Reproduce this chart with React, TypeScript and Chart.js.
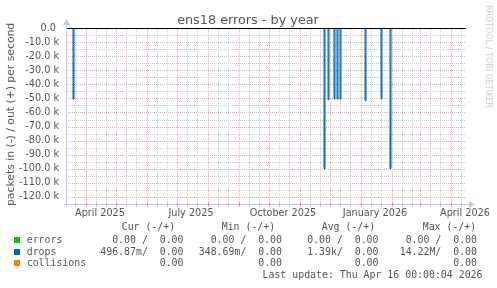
import React, { useEffect, useRef } from "react";
import { Chart, registerables } from "chart.js";

Chart.register(...registerables);

// ---------- data ----------
const TITLE = "ens18 errors - by year";
const Y_TITLE = "packets in (-) / out (+) per second";
const WATERMARK = "RRDTOOL / TOBI OETIKER";
const START_DATE = "2025-03-12";
const END_DATE = "2026-04-16";

// drops (in, drawn negative) – spikes
const SPIKE_DATES = [
  "2025-03-19",
  "2025-11-25",
  "2025-11-29",
  "2025-12-05",
  "2025-12-08",
  "2025-12-11",
  "2026-01-05",
  "2026-01-21",
  "2026-01-30",
];
const DROPS_IN = [-50500, -100200, -51000, -50500, -50500, -50500, -51700, -50300, -100000];
const ERRORS_IN_VALUE = 0;
const COLLISIONS_VALUE = 0;

const MONTH_STARTS = [
  "2025-04-01", "2025-05-01", "2025-06-01", "2025-07-01", "2025-08-01", "2025-09-01",
  "2025-10-01", "2025-11-01", "2025-12-01", "2026-01-01", "2026-02-01", "2026-03-01", "2026-04-01",
];
const MINOR_DATES = [
  "2025-03-21",
  "2025-04-11", "2025-04-21", "2025-05-11", "2025-05-21", "2025-06-11", "2025-06-21",
  "2025-07-11", "2025-07-21", "2025-08-11", "2025-08-21", "2025-09-11", "2025-09-21",
  "2025-10-11", "2025-10-21", "2025-11-11", "2025-11-21", "2025-12-11", "2025-12-21",
  "2026-01-11", "2026-01-21", "2026-02-11", "2026-02-21", "2026-03-11", "2026-03-21", "2026-04-11",
];
const X_LABELS = ["April 2025", "July 2025", "October 2025", "January 2026", "April 2026"];
const X_LABEL_DATES = ["2025-04-15", "2025-07-15", "2025-10-15", "2026-01-15", "2026-04-15"];

const Y_TICKS = [0, -10000, -20000, -30000, -40000, -50000, -60000, -70000, -80000, -90000, -100000, -110000, -120000];
const Y_MINOR = [-5000, -15000, -25000, -35000, -45000, -55000, -65000, -75000, -85000, -95000, -105000, -115000];
const Y_MIN = -125000;
const Y_MAX = 0;

const LEGEND_NAMES = ["errors", "drops", "collisions"];
const LEGEND_COLORS = ["#00CC00", "#0066B3", "#FF8000"];
const CUR = ["0.00 /  0.00", "496.87m/  0.00", "0.00"];
const MIN = ["0.00 /  0.00", "348.69m/  0.00", "0.00"];
const AVG = ["0.00 /  0.00", "1.39k/  0.00", "0.00"];
const MAX = ["0.00 /  0.00", "14.22M/  0.00", "0.00"];
const LAST_UPDATE = "Last update: Thu Apr 16 00:00:04 2026";

// ---------- helpers ----------
const W = 497;
const H = 288;
const DAY = 86400000;
const dayOf = (s: string) =>
  Math.round((Date.parse(s + "T00:00:00Z") - Date.parse(START_DATE + "T00:00:00Z")) / DAY);
const TOTAL_DAYS = dayOf(END_DATE);

const SANS = "'DejaVu Sans', sans-serif";
const MONO = "'DejaVu Sans Mono', monospace";
const TEXT = "#555555";
const MAJOR = "#f2a8a8";
const MINORC = "#cccccc";
const AXIS = "#c4c8ee";

const gridPlugin = {
  id: "rrdGrid",
  beforeDatasetsDraw(chart: any) {
    const { ctx, chartArea: a, scales } = chart;
    const xs = scales.x;
    const ys = scales.y;
    ctx.save();
    ctx.lineWidth = 1;
    ctx.setLineDash([1, 1]);
    const hline = (v: number, c: string) => {
      const py = Math.round(ys.getPixelForValue(v)) + 0.5;
      ctx.strokeStyle = c;
      ctx.beginPath();
      ctx.moveTo(a.left, py);
      ctx.lineTo(a.right, py);
      ctx.stroke();
    };
    const vline = (d: number, c: string) => {
      const px = Math.round(xs.getPixelForValue(d)) + 0.5;
      ctx.strokeStyle = c;
      ctx.beginPath();
      ctx.moveTo(px, a.bottom);
      ctx.lineTo(px, a.top);
      ctx.stroke();
    };
    Y_MINOR.forEach((v) => hline(v, MINORC));
    MINOR_DATES.forEach((d) => vline(dayOf(d), MINORC));
    Y_TICKS.forEach((v) => v !== 0 && hline(v, MAJOR));
    MONTH_STARTS.forEach((d) => vline(dayOf(d), MAJOR));
    ctx.restore();
  },
  afterDatasetsDraw(chart: any) {
    const { ctx, chartArea: a, scales } = chart;
    const xs = scales.x;
    const ys = scales.y;
    ctx.save();
    ctx.lineWidth = 1;
    const by = Math.round(a.bottom) + 0.5;
    const lx = Math.round(a.left) + 0.5;
    ctx.strokeStyle = AXIS;
    ctx.beginPath();
    ctx.moveTo(a.left - 2, by);
    ctx.lineTo(a.right + 4, by);
    ctx.moveTo(lx, a.bottom + 2);
    ctx.lineTo(lx, a.top - 4);
    ctx.stroke();
    const tick = (d: number, c: string) => {
      const px = Math.round(xs.getPixelForValue(d)) + 0.5;
      ctx.strokeStyle = c;
      ctx.beginPath();
      ctx.moveTo(px, by - 2);
      ctx.lineTo(px, by + 2);
      ctx.stroke();
    };
    MINOR_DATES.forEach((d) => tick(dayOf(d), "#bbbbbb"));
    MONTH_STARTS.forEach((d) => tick(dayOf(d), "#ee8888"));
    ctx.fillStyle = AXIS;
    ctx.beginPath();
    ctx.moveTo(a.right + 9, by);
    ctx.lineTo(a.right + 3, by - 3.5);
    ctx.lineTo(a.right + 3, by + 3.5);
    ctx.closePath();
    ctx.fill();
    ctx.beginPath();
    ctx.moveTo(lx, a.top - 9);
    ctx.lineTo(lx - 3.5, a.top - 3);
    ctx.lineTo(lx + 3.5, a.top - 3);
    ctx.closePath();
    ctx.fill();
    const zy = Math.round(ys.getPixelForValue(0)) + 0.5;
    ctx.strokeStyle = "#000000";
    ctx.beginPath();
    ctx.moveTo(a.left + 1, zy);
    ctx.lineTo(a.right, zy);
    ctx.stroke();
    ctx.restore();
  },
};

const abs = (extra: React.CSSProperties): React.CSSProperties => ({
  position: "absolute",
  whiteSpace: "pre",
  lineHeight: "12px",
  margin: 0,
  ...extra,
});

export default function App() {
  const ref = useRef<HTMLCanvasElement>(null);

  useEffect(() => {
    const canvas = ref.current;
    if (!canvas) return;
    const days = Array.from({ length: TOTAL_DAYS + 1 }, (_, i) => i);
    const spikeMap = new Map<number, number>(SPIKE_DATES.map((d, i) => [dayOf(d), DROPS_IN[i]]));
    const drops = days.map((d) => ({ x: d, y: spikeMap.get(d) ?? 0 }));
    const errors = days.map((d) => ({ x: d, y: ERRORS_IN_VALUE }));
    const collisions = days.map((d) => ({ x: d, y: COLLISIONS_VALUE }));
    const labelDays = X_LABEL_DATES.map(dayOf);

    const chart = new Chart(canvas, {
      type: "line",
      data: {
        datasets: [
          {
            label: "errors",
            data: errors,
            borderColor: LEGEND_COLORS[0],
            borderWidth: 1,
            pointRadius: 0,
            fill: false,
          },
          {
            label: "drops",
            data: drops,
            borderColor: LEGEND_COLORS[1],
            borderWidth: 1,
            pointRadius: 0,
            stepped: true,
            fill: "origin",
            backgroundColor: (c: any) => {
              const area = c.chart.chartArea;
              if (!area) return "rgba(0,102,179,0.5)";
              const g = c.chart.ctx.createLinearGradient(0, area.top, 0, area.bottom);
              g.addColorStop(0, "#b8d6f0");
              g.addColorStop(0.5, "#4a90d0");
              g.addColorStop(1, "#0a5ea8");
              return g;
            },
          },
          {
            label: "collisions",
            data: collisions,
            borderColor: LEGEND_COLORS[2],
            borderWidth: 1,
            pointRadius: 0,
            fill: false,
          },
        ],
      },
      options: {
        responsive: false,
        animation: false,
        devicePixelRatio: 1,
        events: [],
        layout: { padding: { left: 0, top: 28, right: 31, bottom: 0 } },
        plugins: { legend: { display: false }, tooltip: { enabled: false }, title: { display: false } },
        scales: {
          x: {
            type: "linear",
            min: 0,
            max: TOTAL_DAYS,
            grid: { display: false, drawTicks: false },
            border: { display: false },
            afterBuildTicks: (s: any) => {
              s.ticks = labelDays.map((v) => ({ value: v }));
            },
            afterFit: (s: any) => {
              s.height = H - 204;
            },
            ticks: {
              autoSkip: false,
              maxRotation: 0,
              minRotation: 0,
              padding: 4,
              color: TEXT,
              font: { family: SANS, size: 9.7 },
              callback: (v: any) => {
                const i = labelDays.indexOf(Number(v));
                return i >= 0 ? X_LABELS[i] : "";
              },
            },
          },
          y: {
            type: "linear",
            min: Y_MIN,
            max: Y_MAX,
            grid: { display: false, drawTicks: false },
            border: { display: false },
            afterBuildTicks: (s: any) => {
              s.ticks = Y_TICKS.map((v) => ({ value: v }));
            },
            afterFit: (s: any) => {
              s.width = 66;
            },
            ticks: {
              padding: 7,
              color: TEXT,
              font: { family: SANS, size: 9.7 },
              callback: (v: any) => (Number(v) === 0 ? "0.0 " : (Number(v) / 1000).toFixed(1) + " k"),
            },
          },
        },
      },
      plugins: [gridPlugin],
    } as any);
    return () => chart.destroy();
  }, []);

  const rowY = [239.7, 251.7, 263.3];
  const colEnds = [183.5, 282, 378.5, 477];
  const headers = ["Cur (-/+)", "Min (-/+)", "Avg (-/+)", "Max (-/+)"];
  const headerStarts = [121.7, 221.7, 321.7, 422.7];
  const cols = [CUR, MIN, AVG, MAX];

  return (
    <div
      style={{
        position: "absolute",
        left: 0,
        top: 0,
        width: W,
        height: H,
        background: "#ffffff",
        overflow: "hidden",
        color: TEXT,
      }}
    >
      <canvas ref={ref} width={W} height={H} style={{ position: "absolute", left: 0, top: 0, width: W, height: H }} />
      <div
        style={abs({
          left: 48,
          top: 12,
          width: 400,
          textAlign: "center",
          fontFamily: SANS,
          fontSize: 12.8,
          lineHeight: "16px",
        })}
      >
        {TITLE}
      </div>
      <div
        style={abs({
          left: 4,
          top: 14,
          width: 14,
          height: 200,
          writingMode: "vertical-rl",
          transform: "rotate(180deg)",
          textAlign: "center",
          fontFamily: SANS,
          fontSize: 10.8,
          lineHeight: "14px",
        })}
      >
        {Y_TITLE}
      </div>
      <div
        style={abs({
          left: 483,
          top: 4,
          width: 10,
          height: 106,
          writingMode: "vertical-rl",
          textAlign: "center",
          fontFamily: SANS,
          fontSize: 8,
          lineHeight: "10px",
          color: "#cccccc",
        })}
      >
        {WATERMARK}
      </div>
      {headers.map((h, i) => (
        <div key={h} style={abs({ left: headerStarts[i], top: 227 - 6, fontFamily: MONO, fontSize: 9.9 })}>
          {h}
        </div>
      ))}
      {LEGEND_NAMES.map((n, r) => (
        <React.Fragment key={n}>
          <div
            style={{
              position: "absolute",
              left: 14,
              top: Math.round(rowY[r]) - 3,
              width: 6,
              height: 6,
              background: LEGEND_COLORS[r],
            }}
          />
          <div style={abs({ left: 26.7, top: rowY[r] - 6, fontFamily: MONO, fontSize: 9.9 })}>{n}</div>
          {cols.map((c, ci) => (
            <div
              key={ci}
              style={abs({ right: W - colEnds[ci], top: rowY[r] - 6, fontFamily: MONO, fontSize: 9.9, textAlign: "right" })}
            >
              {c[r]}
            </div>
          ))}
        </React.Fragment>
      ))}
      <div style={abs({ right: W - 482.5, top: 275.3 - 6, fontFamily: MONO, fontSize: 9.9, textAlign: "right" })}>
        {LAST_UPDATE}
      </div>
    </div>
  );
}
